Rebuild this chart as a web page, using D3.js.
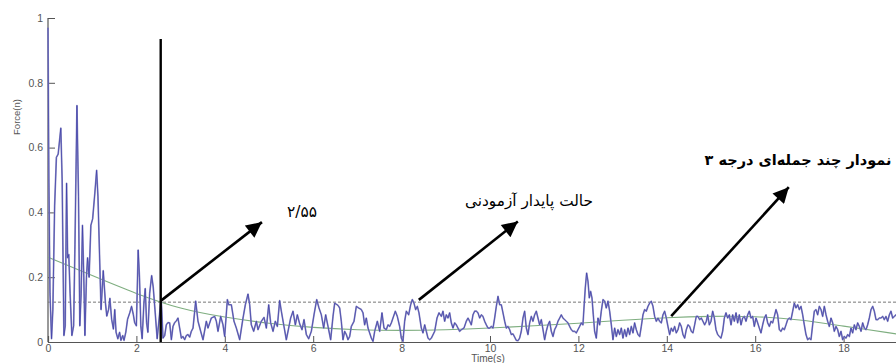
<!DOCTYPE html>
<html>
<head>
<meta charset="utf-8">
<script src="https://cdn.jsdelivr.net/npm/d3@7"></script>
<style>
  html, body { margin: 0; padding: 0; background: #fff; }
  svg { display: block; }
</style>
</head>
<body>
<svg id="chart" width="896" height="363"></svg>
<script>
// Measured force signal: [time (s), force (n)]
const forceTrace = [
  [0.000,0.970],[0.020,0.500],[0.045,0.150],[0.080,0.010],[0.110,0.100],[0.150,0.420],
  [0.190,0.570],[0.230,0.580],[0.290,0.660],[0.320,0.500],[0.360,0.020],[0.390,0.050],
  [0.420,0.490],[0.445,0.260],[0.470,0.270],[0.500,0.150],[0.540,0.020],[0.580,0.050],
  [0.610,0.300],[0.655,0.730],[0.690,0.450],[0.720,0.050],[0.750,0.150],[0.780,0.360],
  [0.810,0.200],[0.835,0.020],[0.870,0.200],[0.895,0.260],[0.930,0.200],[0.970,0.360],
  [1.010,0.380],[1.060,0.460],[1.100,0.530],[1.130,0.450],[1.170,0.250],[1.200,0.100],
  [1.250,0.220],[1.300,0.120],[1.330,0.080],[1.370,0.100],[1.400,0.135],[1.440,0.070],
  [1.480,0.040],[1.510,0.100],[1.540,0.030],[1.580,0.010],[1.620,0.030],[1.650,0.005],
  [1.690,0.020],[1.720,0.005],[1.760,0.030],[1.800,0.070],[1.850,0.090],[1.890,0.110],
  [1.930,0.085],[1.960,0.060],[2.000,0.050],[2.040,0.284],[2.070,0.200],[2.100,0.050],
  [2.130,0.010],[2.170,0.120],[2.200,0.165],[2.230,0.060],[2.260,0.030],[2.300,0.150],
  [2.345,0.205],[2.380,0.170],[2.420,0.100],[2.470,0.010],[2.520,0.080],[2.550,0.125],
  [2.564,0.126],[2.602,0.012],[2.640,0.020],[2.677,0.053],[2.715,0.060],[2.753,0.059],
  [2.791,0.007],[2.828,0.048],[2.866,0.060],[2.904,0.065],[2.941,0.074],[2.979,0.043],
  [3.017,0.012],[3.054,0.017],[3.092,0.007],[3.130,0.020],[3.168,0.023],[3.205,0.015],
  [3.243,0.033],[3.281,0.043],[3.341,0.126],[3.394,0.064],[3.454,0.033],[3.507,0.007],
  [3.582,0.064],[3.620,0.043],[3.695,0.074],[3.771,0.079],[3.809,0.064],[3.846,0.033],
  [3.907,0.079],[3.959,0.053],[3.997,0.017],[4.058,0.131],[4.088,0.115],[4.148,0.115],
  [4.208,0.064],[4.261,0.043],[4.337,0.007],[4.412,0.074],[4.465,0.115],[4.525,0.148],
  [4.563,0.115],[4.600,0.053],[4.653,0.033],[4.714,0.064],[4.751,0.038],[4.827,0.064],
  [4.887,0.076],[4.940,0.043],[4.993,0.115],[5.038,0.059],[5.091,0.033],[5.143,0.064],
  [5.189,0.048],[5.241,0.128],[5.279,0.095],[5.339,0.048],[5.392,0.007],[5.445,0.043],
  [5.490,0.074],[5.543,0.095],[5.596,0.053],[5.641,0.084],[5.694,0.056],[5.747,0.038],
  [5.792,0.069],[5.845,0.023],[5.898,0.010],[5.958,0.033],[6.018,0.084],[6.079,0.131],
  [6.131,0.105],[6.184,0.084],[6.237,0.043],[6.282,0.084],[6.335,0.048],[6.395,0.007],
  [6.448,0.079],[6.486,0.120],[6.561,0.113],[6.599,0.105],[6.636,0.064],[6.674,0.007],
  [6.712,0.033],[6.750,0.023],[6.787,0.007],[6.825,0.017],[6.863,0.048],[6.923,0.064],
  [6.976,0.110],[7.029,0.105],[7.089,0.100],[7.127,0.090],[7.164,0.053],[7.202,0.074],
  [7.240,0.043],[7.277,0.028],[7.315,0.012],[7.353,0.002],[7.391,0.033],[7.451,0.064],
  [7.504,0.033],[7.556,0.090],[7.602,0.043],[7.654,0.038],[7.692,0.053],[7.730,0.048],
  [7.768,0.059],[7.805,0.074],[7.858,0.095],[7.903,0.079],[7.956,0.048],[7.994,0.012],
  [8.031,0.002],[8.069,0.064],[8.107,0.095],[8.160,0.084],[8.205,0.115],[8.243,0.131],
  [8.280,0.120],[8.318,0.100],[8.356,0.110],[8.393,0.090],[8.446,0.043],[8.484,0.028],
  [8.522,0.053],[8.559,0.033],[8.597,0.012],[8.635,0.007],[8.673,0.012],[8.748,0.033],
  [8.801,0.074],[8.846,0.090],[8.899,0.079],[8.936,0.095],[8.974,0.064],[9.012,0.084],
  [9.050,0.074],[9.087,0.090],[9.125,0.059],[9.163,0.043],[9.200,0.059],[9.238,0.053],
  [9.276,0.043],[9.313,0.033],[9.351,0.038],[9.412,0.043],[9.464,0.064],[9.502,0.074],
  [9.540,0.064],[9.577,0.053],[9.615,0.084],[9.653,0.095],[9.691,0.095],[9.728,0.090],
  [9.766,0.074],[9.804,0.084],[9.841,0.079],[9.879,0.064],[9.917,0.053],[9.955,0.043],
  [9.992,0.043],[10.030,0.048],[10.068,0.043],[10.105,0.074],[10.143,0.110],[10.181,0.141],
  [10.219,0.115],[10.256,0.115],[10.294,0.090],[10.332,0.064],[10.369,0.043],[10.407,0.048],
  [10.445,0.038],[10.482,0.023],[10.520,0.025],[10.558,0.015],[10.595,0.005],[10.633,0.004],
  [10.670,0.012],[10.708,0.033],[10.746,0.074],[10.784,0.095],[10.822,0.043],[10.859,0.023],
  [10.897,0.059],[10.935,0.079],[10.972,0.064],[11.010,0.084],[11.048,0.095],[11.085,0.074],
  [11.123,0.053],[11.161,0.069],[11.199,0.038],[11.236,0.007],[11.274,0.033],[11.312,0.053],
  [11.349,0.064],[11.387,0.033],[11.425,0.017],[11.462,0.038],[11.500,0.048],[11.538,0.064],
  [11.576,0.074],[11.613,0.084],[11.651,0.074],[11.689,0.069],[11.726,0.064],[11.764,0.059],
  [11.802,0.048],[11.839,0.038],[11.877,0.033],[11.915,0.033],[11.953,0.028],[11.990,0.038],
  [12.028,0.048],[12.066,0.059],[12.103,0.053],[12.126,0.105],[12.156,0.167],[12.186,0.213],
  [12.217,0.187],[12.247,0.136],[12.277,0.156],[12.307,0.136],[12.337,0.084],[12.367,0.033],
  [12.405,0.012],[12.443,0.074],[12.481,0.053],[12.518,0.095],[12.556,0.131],[12.594,0.126],
  [12.631,0.105],[12.669,0.126],[12.707,0.095],[12.745,0.053],[12.782,0.007],[12.820,0.043],
  [12.858,0.017],[12.895,0.038],[12.933,0.023],[12.971,0.043],[13.008,0.012],[13.046,0.038],
  [13.084,0.017],[13.122,0.043],[13.159,0.023],[13.197,0.048],[13.235,0.028],[13.272,0.059],
  [13.310,0.038],[13.348,0.023],[13.386,0.017],[13.423,0.048],[13.461,0.084],[13.499,0.100],
  [13.536,0.095],[13.574,0.110],[13.612,0.120],[13.649,0.126],[13.687,0.110],[13.725,0.079],
  [13.763,0.064],[13.800,0.074],[13.838,0.064],[13.876,0.059],[13.913,0.084],[13.951,0.095],
  [13.989,0.074],[14.026,0.048],[14.064,0.023],[14.102,0.043],[14.140,0.033],[14.177,0.048],
  [14.215,0.028],[14.253,0.038],[14.290,0.059],[14.328,0.048],[14.366,0.023],[14.404,0.012],
  [14.441,0.038],[14.479,0.053],[14.517,0.048],[14.554,0.033],[14.592,0.028],[14.630,0.053],
  [14.667,0.079],[14.705,0.079],[14.743,0.069],[14.781,0.074],[14.818,0.064],[14.856,0.053],
  [14.894,0.064],[14.925,0.084],[14.962,0.053],[15.000,0.064],[15.038,0.095],[15.076,0.074],
  [15.113,0.038],[15.151,0.023],[15.189,0.017],[15.226,0.012],[15.264,0.033],[15.302,0.074],
  [15.339,0.090],[15.377,0.074],[15.415,0.084],[15.453,0.053],[15.490,0.084],[15.528,0.064],
  [15.566,0.090],[15.603,0.059],[15.641,0.084],[15.679,0.053],[15.716,0.074],[15.754,0.079],
  [15.792,0.064],[15.830,0.084],[15.867,0.095],[15.905,0.074],[15.943,0.079],[15.980,0.048],
  [16.018,0.074],[16.056,0.059],[16.093,0.043],[16.131,0.028],[16.169,0.053],[16.207,0.074],
  [16.244,0.084],[16.282,0.059],[16.320,0.048],[16.357,0.064],[16.395,0.059],[16.433,0.079],
  [16.470,0.100],[16.508,0.084],[16.546,0.038],[16.584,0.033],[16.621,0.043],[16.659,0.038],
  [16.697,0.053],[16.734,0.069],[16.772,0.074],[16.810,0.069],[16.848,0.095],[16.885,0.120],
  [16.923,0.105],[16.961,0.115],[16.998,0.100],[17.036,0.110],[17.074,0.084],[17.111,0.053],
  [17.149,0.023],[17.187,0.007],[17.225,0.012],[17.262,0.007],[17.300,0.053],[17.338,0.095],
  [17.375,0.100],[17.413,0.084],[17.451,0.110],[17.489,0.100],[17.526,0.079],[17.564,0.110],
  [17.602,0.084],[17.639,0.064],[17.677,0.048],[17.715,0.074],[17.753,0.059],[17.790,0.033],
  [17.828,0.048],[17.866,0.038],[17.903,0.017],[17.941,0.033],[17.979,0.007],[18.017,0.017],
  [18.054,0.012],[18.092,0.023],[18.130,0.017],[18.167,0.043],[18.205,0.028],[18.243,0.053],
  [18.280,0.038],[18.318,0.059],[18.356,0.048],[18.394,0.033],[18.431,0.059],[18.469,0.043],
  [18.507,0.038],[18.544,0.053],[18.582,0.074],[18.620,0.100],[18.658,0.110],[18.695,0.095],
  [18.733,0.069],[18.771,0.069],[18.808,0.074],[18.846,0.074],[18.884,0.079],[18.921,0.069],
  [18.959,0.079],[18.997,0.064],[19.035,0.084],[19.072,0.095],[19.110,0.074],[19.148,0.079],
  [19.186,0.084],[19.250,0.070],[19.300,0.090]
];

// Third-degree polynomial trend, sampled once per second
const fitTime  = [0, 1, 2, 3, 4, 5, 6, 7, 8, 9, 10, 11, 12, 13, 14, 15, 16, 17, 18, 19, 20];
const fitForce = [0.262, 0.205, 0.150, 0.105, 0.077, 0.058, 0.045, 0.038, 0.036, 0.038, 0.043,
                  0.050, 0.058, 0.067, 0.075, 0.079, 0.078, 0.068, 0.049, 0.029, 0.008];

// Steady-state threshold and settling time
const steadyLevel = 0.123;
const settleTime = 2.55;
const settleLineTop = 0.935;

const xTicks = [0, 2, 4, 6, 8, 10, 12, 14, 16, 18];
const yTicks = [0, 0.2, 0.4, 0.6, 0.8, 1];

// Annotations: label, arrow start [t, f], arrow tip [t, f]
const notes = [
  { text: "۲/۵۵", from: [2.55, 0.127], to: [4.84, 0.370] },
  { text: "حالت پایدار آزمودنی", from: [8.39, 0.130], to: [10.63, 0.372] },
  { text: "نمودار چند جمله\u200cای درجه ۳", from: [14.10, 0.080], to: [16.76, 0.478] }
];

const svg = d3.select("#chart");
const x = d3.scaleLinear().domain([0, 20]).range([48, 932]);
const y = d3.scaleLinear().domain([0, 1]).range([342, 18]);

svg.append("rect").attr("width", 896).attr("height", 363).attr("fill", "#fff");

// Axes (ticks pointing inward)
const axisColor = "#555";
const xAxis = svg.append("g").attr("transform", "translate(0,342)")
  .call(d3.axisBottom(x).tickValues(xTicks).tickSize(-6).tickPadding(3).tickFormat(d3.format("d")));
const yAxis = svg.append("g").attr("transform", "translate(48,0)")
  .call(d3.axisLeft(y).tickValues(yTicks).tickSize(-7).tickPadding(5).tickFormat(d => d === 0 || d === 1 ? d : d.toFixed(1)));
[xAxis, yAxis].forEach(g => {
  g.select(".domain").attr("stroke", axisColor).attr("stroke-width", 1.2);
  g.selectAll(".tick line").attr("stroke", axisColor).attr("stroke-width", 1);
  g.selectAll(".tick text").attr("fill", "#555").attr("font-family", "Liberation Sans, Arial, sans-serif").attr("font-size", 10.5);
});
xAxis.selectAll(".tick text").attr("y", 3).attr("dy", "0.71em");
yAxis.select(".domain").attr("d", `M0,${y(1)}V${y(0)}`);

svg.append("text").attr("x", 488).attr("y", 362).attr("text-anchor", "middle")
  .attr("font-family", "Liberation Sans, Arial, sans-serif").attr("font-size", 10).attr("fill", "#555")
  .text("Time(s)");
svg.append("text").attr("transform", "translate(20,117) rotate(-90)").attr("text-anchor", "middle")
  .attr("font-family", "Liberation Sans, Arial, sans-serif").attr("font-size", 9.5).attr("fill", "#555")
  .text("Force(n)");

// Steady-state threshold (dashed)
svg.append("line")
  .attr("x1", x(0)).attr("x2", x(20)).attr("y1", y(steadyLevel)).attr("y2", y(steadyLevel))
  .attr("stroke", "#777").attr("stroke-width", 1).attr("stroke-dasharray", "3,2");

// Polynomial trend
const fitLine = d3.line().x(d => x(d[0])).y(d => y(d[1])).curve(d3.curveNatural);
svg.append("path").datum(fitTime.map((t, i) => [t, fitForce[i]]))
  .attr("d", fitLine).attr("fill", "none").attr("stroke", "#7fae80").attr("stroke-width", 1.1);

// Force signal
const sigLine = d3.line().x(d => x(d[0])).y(d => y(d[1]));
svg.append("path").datum(forceTrace).attr("d", sigLine)
  .attr("fill", "none").attr("stroke", "#9292c4").attr("stroke-width", 1.7).attr("stroke-linejoin", "round");
svg.append("path").datum(forceTrace).attr("d", sigLine)
  .attr("fill", "none").attr("stroke", "#3a3aa8").attr("stroke-width", 0.7).attr("stroke-linejoin", "round");

// Settling time marker
svg.append("line")
  .attr("x1", x(settleTime)).attr("x2", x(settleTime)).attr("y1", y(settleLineTop)).attr("y2", y(0))
  .attr("stroke", "#000").attr("stroke-width", 2.4);

// Arrows
const defs = svg.append("defs");
defs.append("marker").attr("id", "head").attr("viewBox", "0 0 10 10")
  .attr("refX", 10).attr("refY", 5).attr("markerWidth", 6.5).attr("markerHeight", 6)
  .attr("markerUnits", "strokeWidth").attr("orient", "auto")
  .append("path").attr("d", "M0,0L10,5L0,10Z").attr("fill", "#000");

svg.selectAll("line.arrow").data(notes).join("line").attr("class", "arrow")
  .attr("x1", d => x(d.from[0])).attr("y1", d => y(d.from[1]))
  .attr("x2", d => x(d.to[0])).attr("y2", d => y(d.to[1]))
  .attr("stroke", "#000").attr("stroke-width", 2.6).attr("marker-end", "url(#head)");

// Annotation labels, each fitted to its box width
const labelPos = [
  { cx: 302, y: 217, size: 15, weight: "normal", width: 30 },
  { cx: 529, y: 206, size: 17, weight: "normal", width: 128 },
  { cx: 798, y: 165, size: 16, weight: "bold", width: 187 }
];
svg.selectAll("text.note").data(notes).join("text").attr("class", "note")
  .attr("x", (d, i) => labelPos[i].cx).attr("y", (d, i) => labelPos[i].y)
  .attr("text-anchor", "middle")
  .attr("font-family", "DejaVu Sans, sans-serif")
  .attr("font-size", (d, i) => labelPos[i].size).attr("font-weight", (d, i) => labelPos[i].weight)
  .attr("fill", "#000").text(d => d.text)
  .each(function (d, i) {
    const w = this.getComputedTextLength();
    if (w > 0) d3.select(this).attr("font-size", labelPos[i].size * Math.min(1.25, labelPos[i].width / w));
  });
</script>
</body>
</html>
